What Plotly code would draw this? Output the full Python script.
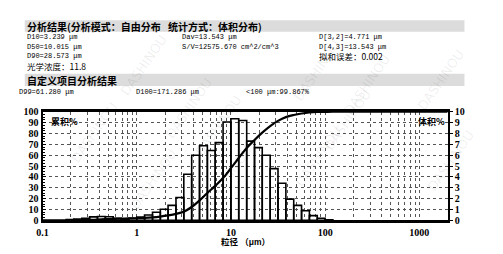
import numpy as np
import plotly.graph_objects as go

W, H = 503, 254

# ---- data ----
bin_edges = [0.178, 0.215, 0.261, 0.316, 0.383, 0.464, 0.562, 0.681, 0.825,
             1.0, 1.21, 1.47, 1.78, 2.15, 2.61, 3.16, 3.83, 4.64, 5.62, 6.81,
             8.25, 10.0, 12.1, 14.7, 17.8, 21.5, 26.1, 31.6, 38.3, 46.4, 56.2,
             68.1, 82.5, 100.0, 121.0]
volume_pct = [0.08, 0.12, 0.2, 0.32, 0.36, 0.34, 0.2, 0.12, 0.2,
              0.3, 0.5, 0.75, 1.03, 1.38, 2.1,
              4.24, 6.0, 6.87, 6.43, 7.16, 9.06, 9.36, 9.2,
              7.3, 6.7, 6.0, 4.76, 3.42, 1.96, 1.38, 0.88, 0.44, 0.2, 0.05]
x_tickvals = [0.1, 1, 10, 100, 1000]
x_ticktext = ["0.1", "1", "10", "100", "1000"]
left_ticks = [0, 10, 20, 30, 40, 50, 60, 70, 80, 90, 100]
right_ticks = [0, 1, 2, 3, 4, 5, 6, 7, 8, 9, 10]

header1 = "分析结果(分析模式：自由分布"
header1b = "统计方式：体积分布)"
col1 = ["D10=3.239 μm", "D50=10.015 μm", "D90=28.573 μm"]
col2 = ["Dav=13.543 μm", "S/V=12575.670 cm^2/cm^3"]
col3 = ["D[3,2]=4.771 μm", "D[4,3]=13.543 μm"]
fit_err = "拟和误差：0.002"
optical = "光学浓度：11.8"
header2 = "自定义项目分析结果"
custom = ["D99=61.280 μm", "D100=171.286 μm", "<100 μm:99.867%"]
x_title = "粒径 （μm）"
cum_label = "累积%"
vol_label = "体积%"

# ---- geometry helpers ----
def px(x):
    return x / W

def py(y):
    return 1 - y / H

X0, X1, YT, YB = 37, 447, 111, 225

fig = go.Figure()

# histogram bars as hollow rectangles
bx, by = [], []
for i, v in enumerate(volume_pct):
    a, b = bin_edges[i], bin_edges[i + 1]
    bx += [a, a, b, b, a, None]
    by += [0, v, v, 0, 0, None]
fig.add_trace(go.Scatter(x=bx, y=by, mode="lines", yaxis="y",
                         line=dict(color="black", width=1.6),
                         hoverinfo="skip", showlegend=False))

# cumulative curve
cum = np.cumsum(volume_pct)
cum = cum / cum[-1] * 100
cx = [0.1, bin_edges[0]] + list(bin_edges[1:]) + [2000]
cy = [0, 0] + list(cum) + [100]
fig.add_trace(go.Scatter(x=cx, y=cy, mode="lines", yaxis="y2",
                         line=dict(color="black", width=2.2, shape="spline", smoothing=1.0),
                         hoverinfo="skip", showlegend=False))

tickfont = dict(family="Liberation Serif", size=10, color="black", weight="bold")

fig.update_layout(
    width=W, height=H, margin=dict(l=0, r=0, t=0, b=0),
    paper_bgcolor="white", plot_bgcolor="white",
    xaxis=dict(type="log", range=[-1, np.log10(2000)], domain=[px(X0), px(X1)],
               tickvals=x_tickvals, ticktext=x_ticktext, tickfont=tickfont,
               ticklabelstandoff=1,
               showgrid=True, gridcolor="#555", griddash="dot", gridwidth=1,
               minor=dict(dtick="D1", showgrid=True, gridcolor="#555",
                          griddash="dot", gridwidth=1, ticks=""),
               showline=True, linecolor="black", linewidth=2.5, mirror=True,
               ticks="", zeroline=False),
    yaxis=dict(range=[0, 10], domain=[py(YB), py(YT)], side="right",
               tickvals=right_ticks, tickfont=tickfont,
               showgrid=True, gridcolor="#555", griddash="dot", gridwidth=1,
               showline=True, linecolor="black", linewidth=2, mirror=True,
               ticks="outside", ticklen=3, tickcolor="black", zeroline=False),
    yaxis2=dict(range=[0, 100], overlaying="y", side="left",
                tickvals=left_ticks, tickfont=tickfont, showgrid=False,
                showline=True, linecolor="black", linewidth=2,
                ticks="inside", ticklen=3, tickcolor="black",
                minor=dict(dtick=2.5, ticks="inside", ticklen=2, tickcolor="black"),
                zeroline=False),
)

# gray header bands
for (y0, y1) in [(15, 27), (71, 84)]:
    fig.add_shape(type="rect", xref="paper", yref="paper",
                  x0=px(19), x1=px(464), y0=py(y1), y1=py(y0),
                  fillcolor="#dcdcdc", line=dict(width=0), layer="below")

def txt(x, y, s, size=7, family="Liberation Mono", bold=False, color="black",
        anchor="left", yanchor="middle"):
    fig.add_annotation(x=px(x), y=py(y), xref="paper", yref="paper", text=s,
                       showarrow=False, xanchor=anchor, yanchor=yanchor,
                       borderpad=0,
                       font=dict(family=family, size=size, color=color,
                                 weight="bold" if bold else "normal"))

cjk = "Noto Sans CJK SC"
txt(20, 21, header1, 10, cjk, True)
txt(163, 21, header1b, 10, cjk, True)
for i, s in enumerate(col1):
    txt(20, 33 + 10 * i, s)
for i, s in enumerate(col2):
    txt(177, 33 + 10 * i, s)
for i, s in enumerate(col3):
    txt(316, 33 + 10 * i, s)
txt(316, 53, fit_err, 8.5, cjk)
txt(20, 63, optical, 8.5, cjk)
txt(20, 78, header2, 10, cjk, True)
txt(12, 90, custom[0])
txt(131, 90, custom[1])
txt(242, 90, custom[2])

txt(45, 121, cum_label, 9, cjk, True)
txt(416, 121, vol_label, 9, cjk, True)
txt(242, 254, x_title, 8.5, "Liberation Sans, Noto Sans CJK SC", True,
    anchor="center", yanchor="bottom")

# faint watermark
for (x, y) in [(110, 25), (185, 70), (315, 30), (395, 45), (60, 170), (215, 125),
               (225, 215), (345, 195), (375, 120), (480, 200), (470, 40), (120, 220)]:
    fig.add_annotation(x=px(x), y=py(y), xref="paper", yref="paper", text="DASHINOU",
                       showarrow=False, textangle=-55,
                       font=dict(family="DejaVu Sans", size=13, color="rgba(0,0,0,0.07)"))

fig.write_html("out.html")
